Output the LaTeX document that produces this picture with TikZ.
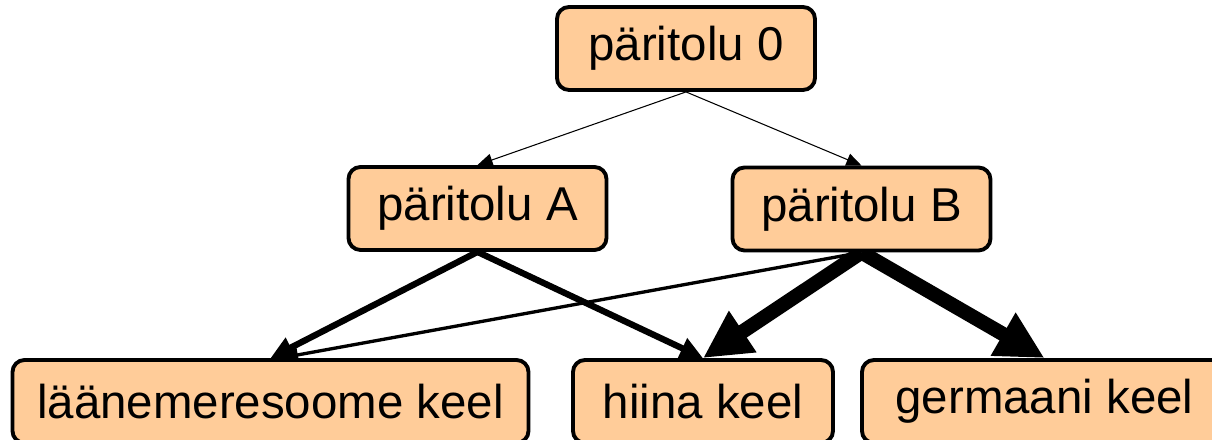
\documentclass[tikz,border=0pt]{standalone}
\usepackage{fontspec}
\setmainfont{Liberation Sans}
\usepackage{tikz}
\usetikzlibrary{arrows.meta,backgrounds}
\definecolor{boxfill}{HTML}{FFCC99}
\tikzset{
  box/.style={draw=black, fill=boxfill, line width=1.1pt, rounded corners=1.2mm,
    inner sep=0pt, minimum height=8.3mm, font=\fontsize{13.5}{16}\selectfont},
  thinline/.style={draw=black, line width=0.3pt, -{Triangle[length=4.3pt,width=3.6pt]}},
  weakline/.style={draw=black, line width=0.95pt, -{Triangle[length=5pt,width=4.4pt]}},
  midline/.style={draw=black, line width=1.8pt, -{Triangle[length=6.5pt,width=6pt]}},
  heavyline/.style={draw=black, line width=4.1pt, -{Triangle[length=13.6pt,width=13.2pt]}}
}

\begin{document}
\begin{tikzpicture}
  \useasboundingbox (0,0) rectangle (12.12,4.40);

  % origins
  \node[box, minimum width=2.58cm] (top) at (6.86,3.915) {päritolu 0};
  \node[box, minimum width=2.58cm] (pa) at (4.775,2.315) {päritolu A};
  \node[box, minimum width=2.58cm] (pb) at (8.615,2.31) {päritolu B};

  % languages
  \node[box, minimum width=5.16cm] (lm) at (2.705,0.385) {läänemeresoome keel};
  \node[box, minimum width=2.60cm] (hi) at (7.03,0.385) {hiina keel};
  \node[box, minimum width=3.65cm] (ge) at (10.445,0.385) {germaani keel};

  \begin{scope}[on background layer]
    \draw[thinline] (top.south) -- (pa.north);
    \draw[thinline] (top.south) -- (pb.north);
    \draw[midline] (pa.south) -- (lm.north);
    \draw[midline] (pa.south) -- (hi.north);
    \draw[weakline] (pb.south) -- ([xshift=1mm]lm.north);
    \draw[heavyline] (pb.south) -- (hi.north);
    \draw[heavyline] (pb.south) -- (ge.north);
  \end{scope}
\end{tikzpicture}
\end{document}
